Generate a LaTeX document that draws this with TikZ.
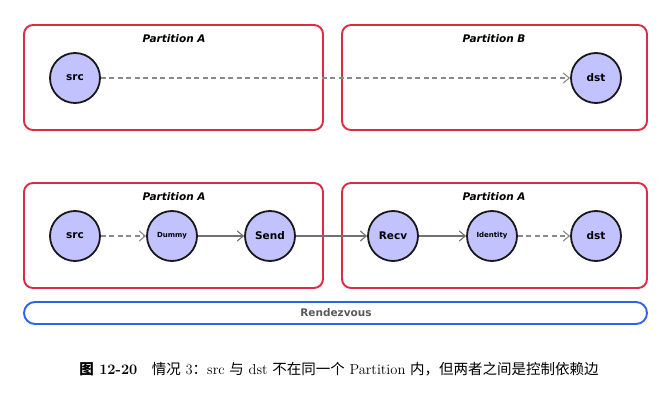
\documentclass[tikz,border=0pt]{standalone}
\usepackage{fontspec}
\newfontfamily\nodefont{DejaVu Sans}
\newfontfamily\cjk{Noto Sans CJK SC}
\usetikzlibrary{arrows.meta}
\definecolor{partred}{HTML}{DC2B45}
\definecolor{rzblue}{HTML}{2E62F0}
\definecolor{nodefill}{HTML}{C2C2FF}
\definecolor{arrgray}{HTML}{707070}
\definecolor{dashgray}{HTML}{8A8A8A}
\begin{document}
\begin{tikzpicture}[x=1pt,y=-1pt,
  part/.style={draw=partred,line width=1.9pt,rounded corners=9pt},
  rdv/.style={draw=rzblue,line width=1.9pt,rounded corners=11pt},
  op/.style={circle,draw=black!90,line width=1.8pt,fill=nodefill,minimum size=50pt,inner sep=0pt,font=\nodefont\bfseries\fontsize{10.5}{12}\selectfont},
  opsmall/.style={op,font=\nodefont\bfseries\fontsize{7}{8}\selectfont},
  ptitle/.style={font=\nodefont\bfseries\itshape\fontsize{10.5}{12}\selectfont},
  flow/.style={draw=arrgray,line width=1.1pt,-{Straight Barb[length=6pt,width=10pt]}},
  ctrl/.style={flow,draw=dashgray,dashed,dash pattern=on 5pt off 3.5pt},
]
\useasboundingbox (0,0) rectangle (667,404);
% top row partitions
\draw[part] (24,25) rectangle (323,130);
\draw[part] (342,25) rectangle (647,130);
\node[ptitle] (tA) at (174,39) {Partition A};
\node[ptitle] (tB) at (494,39) {Partition B};
\node[op] (src1) at (75,78) {src};
\node[op] (dst1) at (596,78) {dst};
\draw[ctrl] (src1) -- (dst1);
% bottom row partitions
\draw[part] (24,183) rectangle (323,288);
\draw[part] (342,183) rectangle (647,288);
\node[ptitle] (bA1) at (174,197) {Partition A};
\node[ptitle] (bA2) at (494,197) {Partition A};
\node[op] (src2) at (75,236) {src};
\node[opsmall] (dummy) at (172,236) {Dummy};
\node[op] (send) at (270,236) {Send};
\node[op] (recv) at (393,236) {Recv};
\node[opsmall] (ident) at (492,236) {Identity};
\node[op] (dst2) at (596,236) {dst};
\draw[ctrl] (src2) -- (dummy);
\draw[flow] (dummy) -- (send);
\draw[flow] (send) -- (recv);
\draw[flow] (recv) -- (ident);
\draw[ctrl] (ident) -- (dst2);
% rendezvous
\draw[rdv] (24,302) rectangle (647,324);
\node[font=\nodefont\bfseries\fontsize{10.5}{12}\selectfont,text=black!65] (rz) at (336,313) {Rendezvous};
% caption
\node[font=\fontsize{14.5}{16}\selectfont] (cap) at (339,369) {{\cjk\bfseries 图}\textbf{ 12-20}\quad{\cjk 情况} 3{\cjk ：}src {\cjk 与} dst {\cjk 不在同一个} Partition {\cjk 内，但两者之间是控制依赖边}};
\end{tikzpicture}
\end{document}
